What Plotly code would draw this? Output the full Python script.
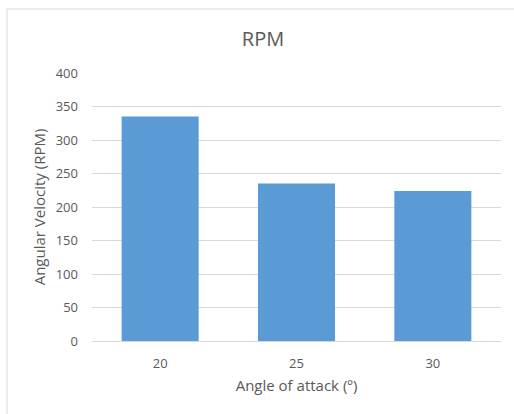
import plotly.graph_objects as go

# Angle of attack (degrees) and measured angular velocity (RPM)
angles = ["20", "25", "30"]
rpm = [335, 235, 224]
y_ticks = [0, 50, 100, 150, 200, 250, 300, 350, 400]

text_color = "#595959"
grid_color = "#d9d9d9"
font_family = "Open Sans, Liberation Sans, sans-serif"

fig = go.Figure(
    go.Bar(
        x=angles,
        y=rpm,
        marker=dict(color="#5b9bd5", line=dict(width=0)),
        width=0.565,
    )
)

W, H = 514, 414
ml, mr, mt, mb = 92, 13, 73, 73
pw, ph = W - ml - mr, H - mt - mb

# outer chart frame, expressed in paper coordinates
x0 = (7 - ml) / pw
y1 = (H - 9 - mb) / ph
x1 = (W + 5 - ml) / pw
y0 = (-5 - mb) / ph

fig.update_layout(
    width=W,
    height=H,
    margin=dict(l=ml, r=mr, t=mt, b=mb),
    paper_bgcolor="white",
    plot_bgcolor="white",
    showlegend=False,
    font=dict(family=font_family, color=text_color, size=13),
    title=dict(
        text="RPM",
        x=263 / W,
        xanchor="center",
        y=1 - 39 / H,
        yanchor="middle",
        font=dict(size=20, color=text_color),
    ),
    xaxis=dict(
        type="category",
        showgrid=False,
        showline=True,
        linecolor=grid_color,
        linewidth=1,
        ticks="",
        ticklabelstandoff=10,
        title=dict(text="Angle of attack (º)", font=dict(size=15), standoff=9),
    ),
    yaxis=dict(
        range=[0, 400],
        tickvals=y_ticks,
        showgrid=True,
        gridcolor=grid_color,
        gridwidth=1,
        zeroline=False,
        showline=False,
        ticks="",
        ticklabelstandoff=13,
        title=dict(text="Angular Velocity (RPM)", font=dict(size=15), standoff=6),
    ),
    shapes=[
        dict(
            type="rect",
            xref="paper",
            yref="paper",
            x0=x0,
            x1=x1,
            y0=y0,
            y1=y1,
            line=dict(color="#d9d9d9", width=1),
            fillcolor="rgba(0,0,0,0)",
            layer="below",
        )
    ],
)

fig.write_html("out.html")
